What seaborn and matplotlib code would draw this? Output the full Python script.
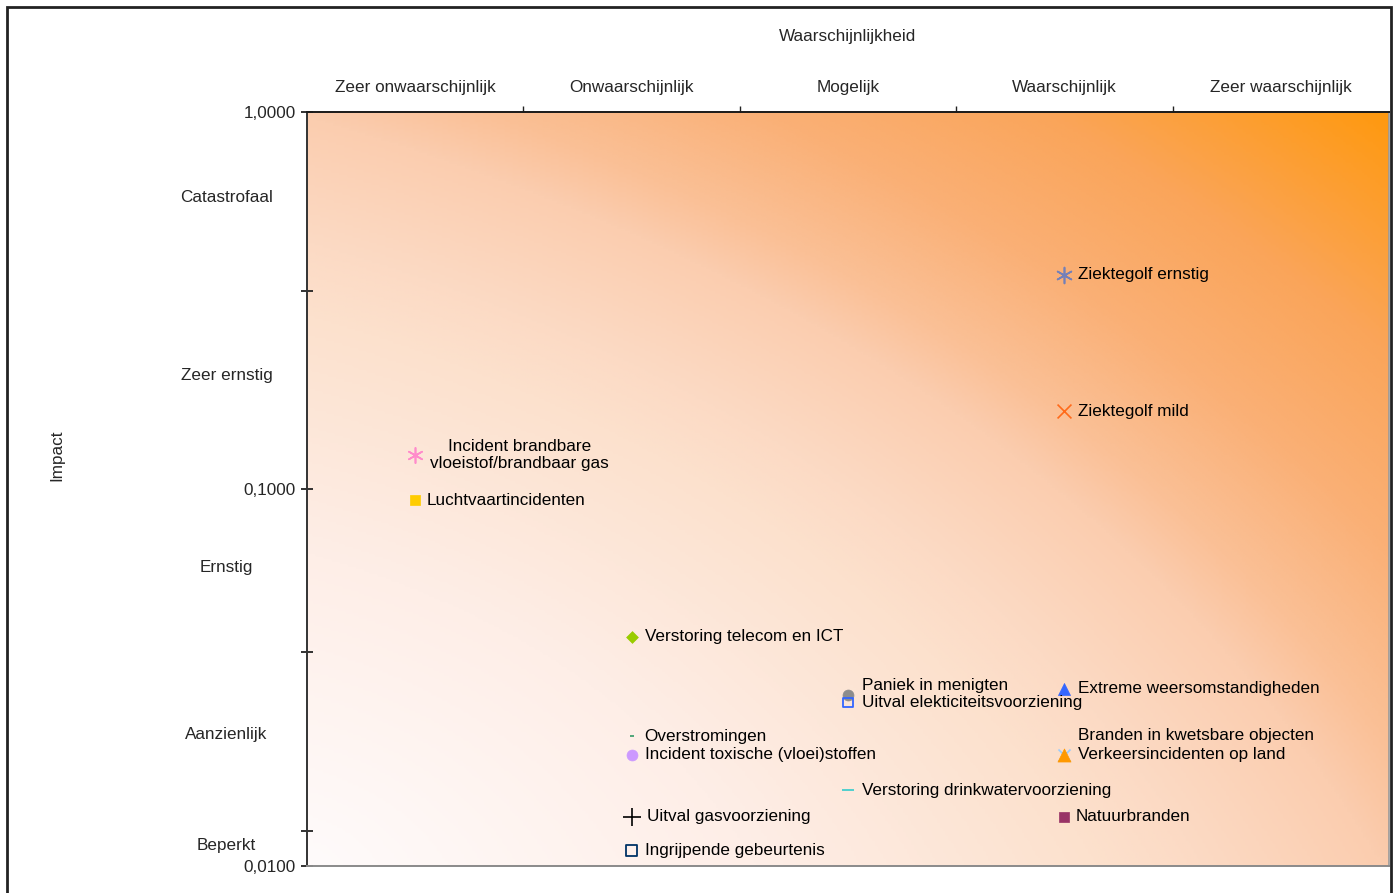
import numpy as np
import matplotlib
matplotlib.use("Agg")
import matplotlib.pyplot as plt
import matplotlib.transforms as mtransforms
import seaborn as sns
from matplotlib.colors import LinearSegmentedColormap
from matplotlib.patches import Rectangle
from matplotlib.ticker import FixedLocator, FuncFormatter, NullFormatter

# --- data -------------------------------------------------------------
likelihood = ["Zeer onwaarschijnlijk", "Onwaarschijnlijk", "Mogelijk",
              "Waarschijnlijk", "Zeer waarschijnlijk"]
impact_levels = ["Catastrofaal", "Zeer ernstig", "Ernstig", "Aanzienlijk", "Beperkt"]
impact_level_pos = [0.594, 0.200, 0.0619, 0.0223, 0.0113]
impact_ticks = [1.0, 0.1, 0.01]
impact_minor_ticks = [0.335, 0.037, 0.0124]

risks = [
    "Ziektegolf ernstig",
    "Ziektegolf mild",
    "Incident brandbare\nvloeistof/brandbaar gas",
    "Luchtvaartincidenten",
    "Verstoring telecom en ICT",
    "Paniek in menigten",
    "Uitval elekticiteitsvoorziening",
    "Extreme weersomstandigheden",
    "Overstromingen",
    "Incident toxische (vloei)stoffen",
    "Branden in kwetsbare objecten",
    "Verkeersincidenten op land",
    "Verstoring drinkwatervoorziening",
    "Uitval gasvoorziening",
    "Natuurbranden",
    "Ingrijpende gebeurtenis",
]
risk_likelihood = [3, 3, 0, 0, 1, 2, 2, 3, 1, 1, 3, 3, 2, 1, 3, 1]
risk_impact = [0.37, 0.161, 0.123, 0.0935, 0.0405, 0.0284, 0.0271, 0.0295,
               0.0221, 0.0197, 0.0197, 0.0197, 0.0159, 0.0135, 0.0135, 0.0110]

# --- marker styles: (marker, colour, size, kind, label dx, label dy) --
ASTER = (6, 2, 0)
styles = [
    (ASTER, "#7480B8", 130, "line", 10, 0),
    ("x", "#FF6A1A", 100, "line", 10, 0),
    (ASTER, "#FF8CCB", 120, "line", 11, 0),
    ("s", "#FFCC00", 50, "fill", 8, 0),
    ("D", "#99CC00", 36, "fill", 10, 0),
    ("o", "#8C8C8C", 62, "fill", 10, 7),
    ("s", "#3366FF", 44, "open", 10, 0),
    ("^", "#3366FF", 75, "fill", 10, 0),
    ("_", "#339966", 10, "line", 9, 0),
    ("o", "#CC99FF", 62, "fill", 10, 0),
    ("x", "#99CCFF", 75, "line", 10, 14),
    ("^", "#FF9900", 88, "fill", 10, 0),
    ("_", "#33CCCC", 75, "line", 10, 0),
    ("+", "#000000", 150, "line", 11, 0),
    ("s", "#993366", 50, "fill", 8, 0),
    ("s", "#003366", 72, "open", 10, 0),
]

FS = 12.3

# --- figure -----------------------------------------------------------
sns.set_style("white")
plt.rcParams["font.family"] = ["Liberation Sans", "DejaVu Sans"]
plt.rcParams["font.size"] = FS

W, H = 1395, 893
fig = plt.figure(figsize=(W / 100, H / 100), dpi=100)
ax = fig.add_axes([307 / W, 1 - 866 / H, (1389 - 307) / W, (866 - 112) / H])

# white-to-orange fill growing towards the upper-right corner
bg_cmap = LinearSegmentedColormap.from_list(
    "bg", [(0.0, "#FFFBFB"), (0.25, "#FEEEE7"), (0.44, "#FCE1CD"),
           (0.5, "#FCDAC4"), (0.6, "#FBCDAF"), (0.65, "#FAC096"),
           (0.74, "#FAB076"), (0.85, "#FAA55A"), (1.0, "#FF990F")])
u = np.linspace(0, 1, 400)
v = np.linspace(0, 1, 300)
U, V = np.meshgrid(u, v)
shade = 0.5 * (U + V) / 2 + 0.5 * np.sqrt(U ** 2 + V ** 2) / np.sqrt(2)
ax.imshow(shade, cmap=bg_cmap, origin="lower", extent=[0, 1, 0, 1],
          transform=ax.transAxes, aspect="auto", zorder=0, vmin=0, vmax=1)

ax.set_yscale("log")
ax.set_xlim(0, len(likelihood))
ax.set_ylim(0.01, 1.0)

# risk markers with their labels
for i, name in enumerate(risks):
    mk, col, size, kind, dx, dy = styles[i]
    x = risk_likelihood[i] + 0.5
    y = risk_impact[i]
    kws = dict(x=[x], y=[y], ax=ax, marker=mk, s=size, zorder=3, legend=False)
    if kind == "fill":
        sns.scatterplot(**kws, color=col, edgecolor=col, linewidth=0.5)
    elif kind == "open":
        sns.scatterplot(**kws, facecolors="none", edgecolors=col, linewidth=1.3)
    else:
        sns.scatterplot(**kws, color=col, linewidth=1.2)
    ax.annotate(name, xy=(x, y), xytext=(dx, dy), textcoords="offset points",
                ha="left", va="center", multialignment="center",
                fontsize=FS, color="#000000", zorder=4)

# y axis
ax.yaxis.set_major_locator(FixedLocator(impact_ticks))
ax.yaxis.set_major_formatter(FuncFormatter(lambda v, p: f"{v:.4f}".replace(".", ",")))
ax.yaxis.set_minor_locator(FixedLocator(impact_minor_ticks))
ax.yaxis.set_minor_formatter(NullFormatter())
ax.tick_params(axis="y", which="both", direction="inout", length=9, width=1.3,
               color="#222222", pad=3.5, labelsize=FS, left=True)

# x axis: category boundaries on top
ax.xaxis.tick_top()
ax.set_xticks(range(1, len(likelihood)))
ax.set_xticklabels([])
ax.tick_params(axis="x", which="both", direction="out", length=4, width=1,
               color="#222222", top=True, bottom=False)

xtrans = mtransforms.blended_transform_factory(ax.transData, ax.transAxes)
for i, name in enumerate(likelihood):
    ax.text(i + 0.5, 1.032, name, transform=xtrans, ha="center", va="center", fontsize=FS)
ax.text(0.5, 1.0995, "Waarschijnlijkheid", transform=ax.transAxes,
        ha="center", va="center", fontsize=FS)

ytrans = mtransforms.blended_transform_factory(ax.transAxes, ax.transData)
for name, pos in zip(impact_levels, impact_level_pos):
    ax.text(-0.0745, pos, name, transform=ytrans, ha="center", va="center", fontsize=FS)
ax.text(-0.231, 0.545, "Impact", transform=ax.transAxes, rotation=90,
        ha="center", va="center", fontsize=FS)

for side, col, lw in [("left", "#333333", 1.4), ("top", "#1a1a1a", 1.4),
                      ("right", "#999999", 1.2), ("bottom", "#8a8a8a", 1.4)]:
    ax.spines[side].set_visible(True)
    ax.spines[side].set_color(col)
    ax.spines[side].set_linewidth(lw)

ax.grid(False)
ax.set_xlabel("")
ax.set_ylabel("")

# outer chart frame
fig.patches.append(Rectangle((7 / W, -0.05), (1391 - 7) / W, 1 - 7 / H + 0.05,
                             transform=fig.transFigure, fill=False,
                             edgecolor="#222222", linewidth=2, zorder=10))

fig.savefig("out.png", dpi=100)
